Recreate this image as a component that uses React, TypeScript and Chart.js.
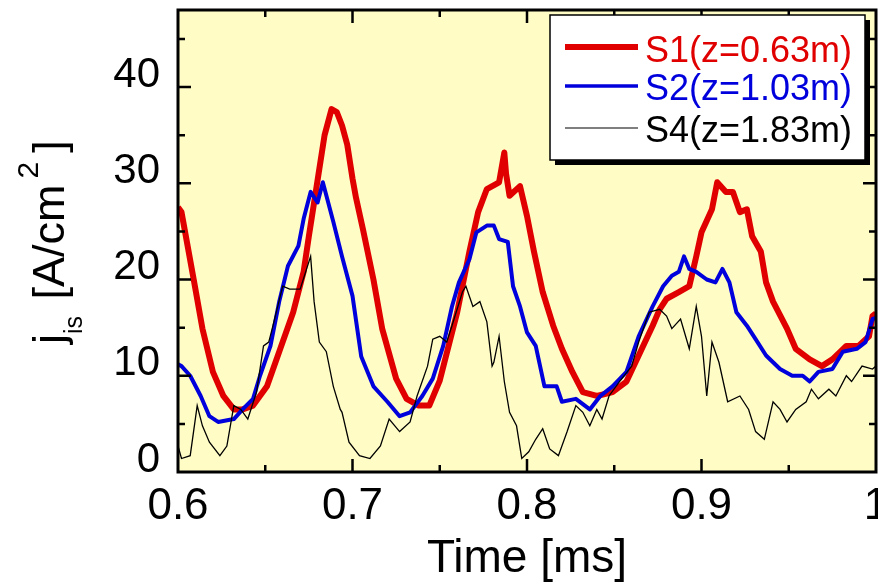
import React, { useEffect, useRef } from 'react';
import { Chart, registerables } from 'chart.js';

Chart.register(...registerables);

const FONT = '"Liberation Sans", Arial, Helvetica, sans-serif';

// ---- data ----
const seriesLabels = ['S1(z=0.63m)', 'S2(z=1.03m)', 'S4(z=1.83m)'];
const seriesColors = ['#e00000', '#0000dd', '#000000'];
const xAxisTitle = 'Time [ms]';
const xTickValues = [0.6, 0.7, 0.8, 0.9, 1.0];
const yTickValues = [0, 10, 20, 30, 40];

const s1Time = [0.600, 0.602, 0.609, 0.614, 0.620, 0.626, 0.632, 0.637, 0.643, 0.651, 0.658, 0.666, 0.672, 0.675, 0.678, 0.681, 0.684, 0.688, 0.691, 0.694, 0.697, 0.700, 0.702, 0.706, 0.712, 0.717, 0.725, 0.731, 0.738, 0.744, 0.750, 0.760, 0.767, 0.772, 0.777, 0.784, 0.787, 0.788, 0.790, 0.796, 0.800, 0.804, 0.809, 0.815, 0.820, 0.826, 0.832, 0.840, 0.849, 0.857, 0.864, 0.872, 0.876, 0.880, 0.887, 0.893, 0.897, 0.900, 0.906, 0.909, 0.914, 0.918, 0.922, 0.926, 0.929, 0.934, 0.937, 0.941, 0.949, 0.954, 0.962, 0.969, 0.975, 0.983, 0.990, 0.996, 0.998, 1.0];
const s1Values = [27.5, 27, 20, 14.9, 10.4, 7.9, 6.5, 6.5, 6.9, 8.9, 12.5, 16.6, 20.8, 24.5, 28, 31.5, 35, 37.7, 37.4, 36, 34, 30.5, 28.5, 25.2, 20, 14.9, 9.7, 7.6, 6.9, 6.9, 9.5, 16.6, 22.9, 27, 29.4, 30.1, 33.2, 31, 28.7, 29.7, 26.6, 22.9, 18.7, 15.2, 12.8, 10.4, 8.3, 7.9, 8.3, 9.4, 12.1, 15.2, 16.9, 18, 18.7, 19.3, 22.4, 24.9, 27.3, 30.1, 29.1, 29.1, 27, 27.3, 24.5, 22.9, 19.7, 17.7, 14.9, 12.8, 11.7, 11, 11.7, 13.1, 13.1, 14.1, 16.2, 16.5];

const s2Time = [0.600, 0.602, 0.607, 0.613, 0.618, 0.623, 0.632, 0.637, 0.643, 0.647, 0.653, 0.658, 0.663, 0.669, 0.672, 0.676, 0.680, 0.683, 0.689, 0.694, 0.700, 0.705, 0.712, 0.720, 0.727, 0.733, 0.740, 0.746, 0.752, 0.757, 0.761, 0.767, 0.771, 0.777, 0.781, 0.784, 0.789, 0.792, 0.796, 0.800, 0.805, 0.810, 0.817, 0.820, 0.828, 0.836, 0.842, 0.849, 0.857, 0.864, 0.872, 0.878, 0.883, 0.887, 0.890, 0.893, 0.897, 0.903, 0.908, 0.912, 0.916, 0.920, 0.926, 0.931, 0.937, 0.945, 0.952, 0.958, 0.962, 0.967, 0.975, 0.981, 0.989, 0.994, 0.998, 1.0];
const s2Values = [11.2, 11, 10, 7.9, 5.8, 5.2, 5.5, 6.5, 7.6, 10, 13.1, 17.7, 21.4, 23.5, 26.3, 29.1, 28, 30.1, 26, 22.4, 18.3, 12, 8.9, 7.3, 5.8, 6.2, 7.9, 9.7, 13.1, 17.2, 19.7, 22.1, 24.9, 25.6, 25.6, 24.2, 23.9, 19.3, 17.2, 14.5, 13.1, 8.9, 8.9, 7.3, 7.6, 6.5, 7.9, 8.9, 10.4, 14.1, 17.2, 19.3, 20.4, 20.8, 22.4, 21.1, 20.8, 20, 19.7, 21.1, 19.7, 16.6, 15.2, 13.8, 12.1, 10.7, 10, 10, 9.4, 10.4, 10.7, 12.5, 12.8, 13.5, 15.9, 16];

const s4Time = [0.600, 0.602, 0.607, 0.611, 0.614, 0.618, 0.624, 0.628, 0.632, 0.636, 0.640, 0.645, 0.649, 0.652, 0.654, 0.660, 0.664, 0.670, 0.676, 0.678, 0.681, 0.685, 0.689, 0.693, 0.694, 0.698, 0.704, 0.710, 0.716, 0.721, 0.727, 0.733, 0.737, 0.743, 0.746, 0.750, 0.754, 0.757, 0.763, 0.765, 0.769, 0.773, 0.777, 0.780, 0.781, 0.784, 0.787, 0.790, 0.794, 0.797, 0.801, 0.805, 0.809, 0.813, 0.818, 0.823, 0.828, 0.832, 0.836, 0.840, 0.843, 0.847, 0.853, 0.860, 0.864, 0.870, 0.876, 0.880, 0.883, 0.888, 0.893, 0.897, 0.900, 0.903, 0.906, 0.910, 0.915, 0.922, 0.927, 0.931, 0.936, 0.941, 0.945, 0.949, 0.954, 0.960, 0.963, 0.967, 0.973, 0.977, 0.983, 0.986, 0.992, 0.998, 1.0];
const s4Values = [2.7, 1.4, 1.7, 6.9, 4.8, 3.1, 1.7, 2.7, 6.9, 6.5, 5.5, 8.3, 13.1, 13.5, 14.9, 19.3, 19, 19, 22.4, 17.7, 13.5, 12.5, 8.9, 6.5, 6.2, 3.1, 1.7, 1.4, 2.7, 5.5, 4.2, 5.2, 7.9, 11, 13.8, 14.1, 13.5, 15.2, 18.7, 19.3, 17.2, 17.7, 15.6, 11, 11.4, 14.1, 9.4, 6.2, 4.8, 1.4, 2.1, 3.4, 4.5, 2.4, 1.7, 4.2, 6.9, 6.2, 4.8, 6.5, 5.5, 7.9, 9.4, 11, 13.5, 16.6, 16.9, 16.2, 14.9, 15.9, 12.8, 17.2, 14.1, 7.9, 13.5, 11.4, 7.3, 7.9, 6.5, 4.2, 3.4, 7.3, 6.5, 5.2, 6.5, 7.3, 8.6, 7.6, 8.6, 7.9, 10, 9.4, 11, 10.7, 11];

const toPoints = (t: number[], v: number[]) => t.map((x, i) => ({ x, y: v[i] }));

const decorPlugin = {
  id: 'decor',
  beforeDraw(chart: any) {
    const { ctx, chartArea: a } = chart;
    ctx.save();
    ctx.fillStyle = '#ffffff';
    ctx.fillRect(0, 0, chart.width, chart.height);
    ctx.fillStyle = '#fffcc6';
    ctx.fillRect(a.left, a.top, a.right - a.left, a.bottom - a.top);
    ctx.restore();
  },
  afterDatasetsDraw(chart: any) {
    const { ctx, chartArea: a, scales } = chart;
    const xs = scales.x;
    const ys = scales.y;
    ctx.save();
    // frame
    ctx.strokeStyle = '#000';
    ctx.lineWidth = 3;
    ctx.strokeRect(a.left, a.top, a.right - a.left, a.bottom - a.top);
    // inward ticks
    ctx.lineWidth = 2.5;
    ctx.beginPath();
    for (let i = 1; i < 8; i++) {
      const x = xs.getPixelForValue(0.6 + i * 0.05);
      const len = i % 2 === 0 ? 13 : 7;
      ctx.moveTo(x, a.bottom);
      ctx.lineTo(x, a.bottom - len);
      ctx.moveTo(x, a.top);
      ctx.lineTo(x, a.top + len);
    }
    for (let i = 1; i < 10; i++) {
      const y = ys.getPixelForValue(i * 5);
      const len = i % 2 === 0 ? 13 : 7;
      ctx.moveTo(a.left, y);
      ctx.lineTo(a.left + len, y);
      ctx.moveTo(a.right, y);
      ctx.lineTo(a.right - len, y);
    }
    ctx.stroke();

    // legend box
    const bx = 550, by = 15, bw = 315, bh = 145;
    ctx.fillStyle = '#000';
    ctx.fillRect(bx + 5, by + 5, bw, bh);
    ctx.fillStyle = '#fff';
    ctx.fillRect(bx, by, bw, bh);
    ctx.lineWidth = 1.5;
    ctx.strokeStyle = '#000';
    ctx.strokeRect(bx, by, bw, bh);
    const lineY = [47, 86, 128];
    const textY = [62, 100, 142];
    const widths = [6, 3.5, 1.2];
    ctx.font = `36px ${FONT}`;
    ctx.textBaseline = 'alphabetic';
    ctx.textAlign = 'left';
    for (let i = 0; i < 3; i++) {
      ctx.strokeStyle = seriesColors[i];
      ctx.lineWidth = widths[i];
      ctx.beginPath();
      ctx.moveTo(565, lineY[i]);
      ctx.lineTo(638, lineY[i]);
      ctx.stroke();
      ctx.fillStyle = seriesColors[i];
      ctx.fillText(seriesLabels[i], 645, textY[i]);
    }
    ctx.restore();
  },
  afterDraw(chart: any) {
    const { ctx, chartArea: a } = chart;
    ctx.save();
    ctx.fillStyle = '#000';
    // x title
    ctx.font = `46px ${FONT}`;
    ctx.textAlign = 'center';
    ctx.textBaseline = 'alphabetic';
    ctx.fillText(xAxisTitle, (a.left + a.right) / 2, 572);
    // y title: j_is [A/cm^2]
    ctx.translate(64, 344);
    ctx.rotate(-Math.PI / 2);
    ctx.textAlign = 'left';
    const big = `45px ${FONT}`;
    let p = 0;
    ctx.font = big;
    ctx.fillText('j', p, 0);
    p += ctx.measureText('j').width;
    ctx.font = `25px ${FONT}`;
    ctx.fillText('is', p, 18);
    p += ctx.measureText('is').width + 4;
    ctx.font = big;
    ctx.fillText(' [A/cm', p, 0);
    p += ctx.measureText(' [A/cm').width + 6;
    ctx.font = `30px ${FONT}`;
    ctx.fillText('2', p, -26);
    p += ctx.measureText('2').width + 9;
    ctx.font = big;
    ctx.fillText(']', p, 0);
    ctx.restore();
  },
};

export default function App() {
  const ref = useRef<HTMLCanvasElement | null>(null);
  useEffect(() => {
    if (!ref.current) return;
    const chart = new Chart(ref.current, {
      type: 'line',
      data: {
        datasets: [
          { label: seriesLabels[0], data: toPoints(s1Time, s1Values), borderColor: seriesColors[0], borderWidth: 6, pointRadius: 0, tension: 0, order: 3, borderJoinStyle: 'round' },
          { label: seriesLabels[1], data: toPoints(s2Time, s2Values), borderColor: seriesColors[1], borderWidth: 4, pointRadius: 0, tension: 0, order: 2, borderJoinStyle: 'round' },
          { label: seriesLabels[2], data: toPoints(s4Time, s4Values), borderColor: seriesColors[2], borderWidth: 1.3, pointRadius: 0, tension: 0, order: 1 },
        ],
      },
      options: {
        animation: false,
        responsive: false,
        devicePixelRatio: 1,
        layout: { padding: { top: 10, right: 2, left: 0, bottom: 0 } },
        plugins: { legend: { display: false }, tooltip: { enabled: false } },
        scales: {
          x: {
            type: 'linear',
            min: 0.6,
            max: 1.0,
            grid: { display: false, drawTicks: false, tickLength: 0 },
            border: { display: false },
            ticks: {
              stepSize: 0.1,
              padding: 8,
              color: '#000',
              font: { size: 44, family: FONT },
              maxRotation: 0,
              autoSkip: false,
              callback: (v: any) => String(Number(Number(v).toFixed(2))),
            },
            afterBuildTicks: (s: any) => {
              s.ticks = xTickValues.map((value) => ({ value }));
            },
            afterFit: (s: any) => {
              s.height = 110;
              s.paddingLeft = 0;
              s.paddingRight = 0;
            },
          },
          y: {
            type: 'linear',
            min: 0,
            max: 48,
            grid: { display: false, drawTicks: false, tickLength: 0 },
            border: { display: false },
            ticks: {
              stepSize: 10,
              padding: 18,
              labelOffset: -12,
              color: '#000',
              font: { size: 42, family: FONT },
            },
            afterBuildTicks: (s: any) => {
              s.ticks = yTickValues.map((value) => ({ value }));
            },
            afterFit: (s: any) => {
              s.width = 178;
              s.paddingTop = 0;
              s.paddingBottom = 0;
            },
          },
        },
      },
      plugins: [decorPlugin],
    });
    return () => chart.destroy();
  }, []);
  return (
    <div style={{ position: 'absolute', left: 0, top: 0, width: 878, height: 582 }}>
      <canvas ref={ref} width={878} height={582} style={{ display: 'block' }} />
    </div>
  );
}
